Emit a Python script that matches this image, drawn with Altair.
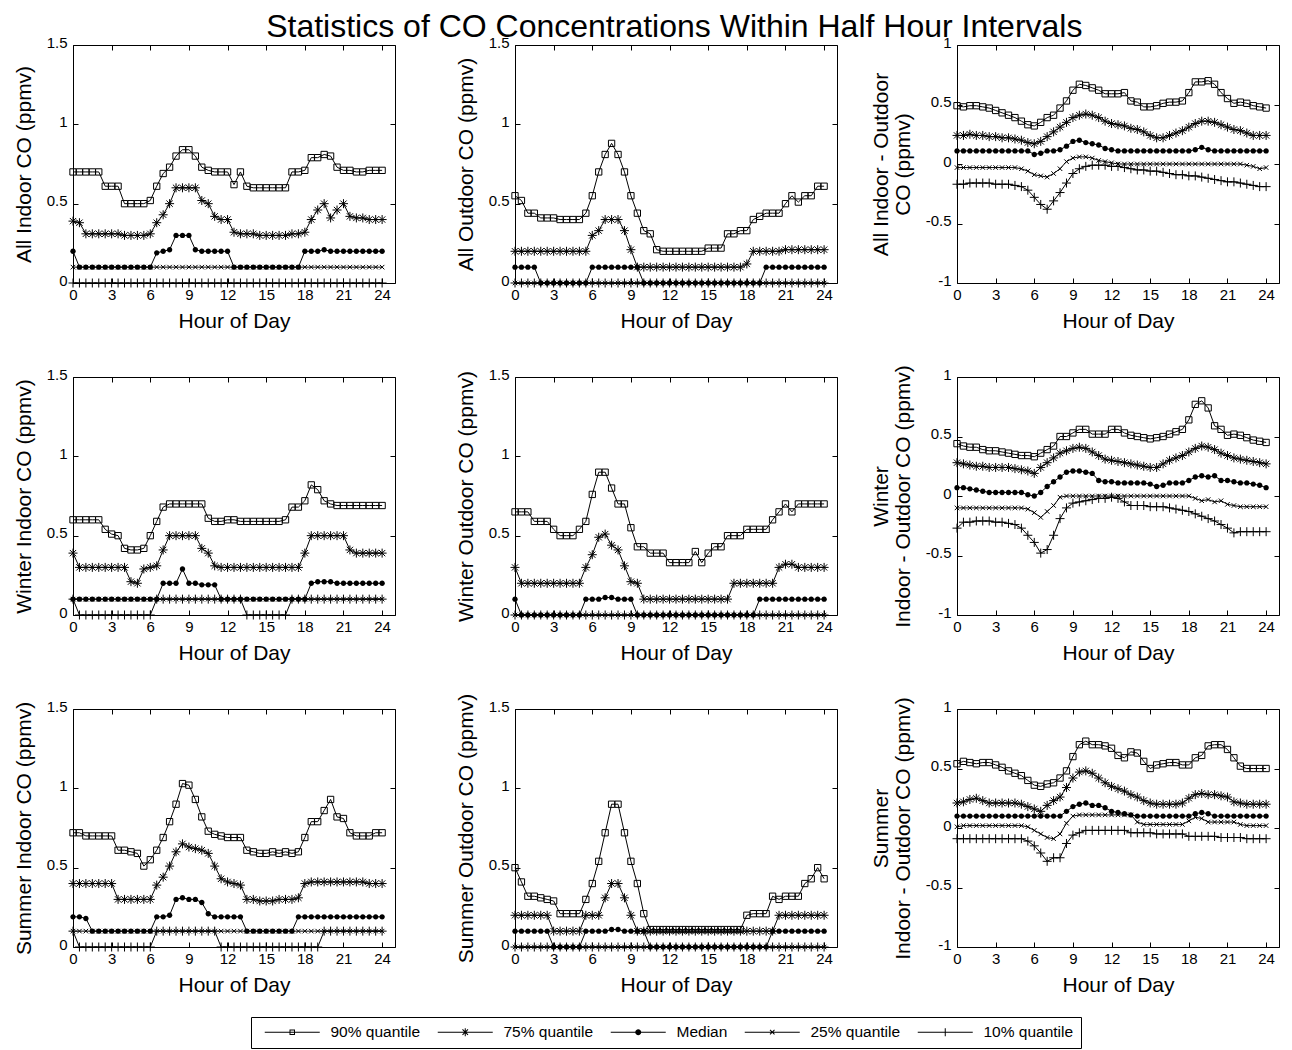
import altair as alt
import pandas as pd

FONT = "Liberation Sans"

HOURS = [0.0, 0.5, 1.0, 1.5, 2.0, 2.5, 3.0, 3.5, 4.0, 4.5,
         5.0, 5.5, 6.0, 6.5, 7.0, 7.5, 8.0, 8.5, 9.0, 9.5,
         10.0, 10.5, 11.0, 11.5, 12.0, 12.5, 13.0, 13.5, 14.0, 14.5,
         15.0, 15.5, 16.0, 16.5, 17.0, 17.5, 18.0, 18.5, 19.0, 19.5,
         20.0, 20.5, 21.0, 21.5, 22.0, 22.5, 23.0, 23.5, 24.0]
SERIES = ["90% quantile", "75% quantile", "Median", "25% quantile", "10% quantile"]
X_TICKS = [0, 3, 6, 9, 12, 15, 18, 21, 24]
CONC_TICKS = [0, 0.5, 1, 1.5]
DIFF_TICKS = [-1, -0.5, 0, 0.5, 1]

# ---------------- All Indoor ----------------
ALL_IN_P90 = [0.70, 0.70, 0.70, 0.70, 0.70, 0.61, 0.61, 0.61, 0.50, 0.50,
              0.50, 0.50, 0.52, 0.61, 0.69, 0.73, 0.80, 0.84, 0.84, 0.80,
              0.73, 0.71, 0.70, 0.70, 0.70, 0.62, 0.70, 0.61, 0.60, 0.60,
              0.60, 0.60, 0.60, 0.60, 0.70, 0.70, 0.71, 0.79, 0.79, 0.81,
              0.80, 0.73, 0.71, 0.71, 0.70, 0.70, 0.71, 0.71, 0.71]
ALL_IN_P75 = [0.39, 0.38, 0.31, 0.31, 0.31, 0.31, 0.31, 0.31, 0.30, 0.30,
              0.30, 0.30, 0.31, 0.38, 0.43, 0.50, 0.60, 0.60, 0.60, 0.60,
              0.52, 0.50, 0.42, 0.40, 0.40, 0.32, 0.31, 0.31, 0.31, 0.30,
              0.30, 0.30, 0.30, 0.30, 0.31, 0.31, 0.32, 0.40, 0.46, 0.50,
              0.41, 0.46, 0.50, 0.42, 0.41, 0.41, 0.40, 0.40, 0.40]
ALL_IN_MED = [0.20, 0.10, 0.10, 0.10, 0.10, 0.10, 0.10, 0.10, 0.10, 0.10,
              0.10, 0.10, 0.10, 0.19, 0.20, 0.21, 0.30, 0.30, 0.30, 0.21,
              0.20, 0.20, 0.20, 0.20, 0.20, 0.10, 0.10, 0.10, 0.10, 0.10,
              0.10, 0.10, 0.10, 0.10, 0.10, 0.10, 0.20, 0.20, 0.20, 0.21,
              0.20, 0.20, 0.20, 0.20, 0.20, 0.20, 0.20, 0.20, 0.20]
ALL_IN_P25 = [0.10, 0.10, 0.10, 0.10, 0.10, 0.10, 0.10, 0.10, 0.10, 0.10,
              0.10, 0.10, 0.10, 0.10, 0.10, 0.10, 0.10, 0.10, 0.10, 0.10,
              0.10, 0.10, 0.10, 0.10, 0.10, 0.10, 0.10, 0.10, 0.10, 0.10,
              0.10, 0.10, 0.10, 0.10, 0.10, 0.10, 0.10, 0.10, 0.10, 0.10,
              0.10, 0.10, 0.10, 0.10, 0.10, 0.10, 0.10, 0.10, 0.10]
ALL_IN_P10 = [0.00, 0.00, 0.00, 0.00, 0.00, 0.00, 0.00, 0.00, 0.00, 0.00,
              0.00, 0.00, 0.00, 0.00, 0.00, 0.00, 0.00, 0.00, 0.00, 0.00,
              0.00, 0.00, 0.00, 0.00, 0.00, 0.00, 0.00, 0.00, 0.00, 0.00,
              0.00, 0.00, 0.00, 0.00, 0.00, 0.00, 0.00, 0.00, 0.00, 0.00,
              0.00, 0.00, 0.00, 0.00, 0.00, 0.00, 0.00, 0.00, 0.00]

# ---------------- All Outdoor ----------------
ALL_OUT_P90 = [0.55, 0.52, 0.44, 0.44, 0.41, 0.41, 0.41, 0.40, 0.40, 0.40,
               0.40, 0.44, 0.55, 0.70, 0.81, 0.88, 0.81, 0.70, 0.55, 0.44,
               0.33, 0.31, 0.21, 0.20, 0.20, 0.20, 0.20, 0.20, 0.20, 0.20,
               0.22, 0.22, 0.22, 0.31, 0.31, 0.33, 0.33, 0.40, 0.42, 0.44,
               0.44, 0.44, 0.50, 0.55, 0.51, 0.55, 0.55, 0.61, 0.61]
ALL_OUT_P75 = [0.20, 0.20, 0.20, 0.20, 0.20, 0.20, 0.20, 0.20, 0.20, 0.20,
               0.20, 0.20, 0.30, 0.33, 0.40, 0.40, 0.40, 0.33, 0.21, 0.10,
               0.10, 0.10, 0.10, 0.10, 0.10, 0.10, 0.10, 0.10, 0.10, 0.10,
               0.10, 0.10, 0.10, 0.10, 0.10, 0.10, 0.12, 0.20, 0.20, 0.20,
               0.20, 0.20, 0.21, 0.21, 0.21, 0.21, 0.21, 0.21, 0.21]
ALL_OUT_MED = [0.10, 0.10, 0.10, 0.10, 0.00, 0.00, 0.00, 0.00, 0.00, 0.00,
               0.00, 0.00, 0.10, 0.10, 0.10, 0.10, 0.10, 0.10, 0.10, 0.10,
               0.00, 0.00, 0.00, 0.00, 0.00, 0.00, 0.00, 0.00, 0.00, 0.00,
               0.00, 0.00, 0.00, 0.00, 0.00, 0.00, 0.00, 0.00, 0.00, 0.10,
               0.10, 0.10, 0.10, 0.10, 0.10, 0.10, 0.10, 0.10, 0.10]
ALL_OUT_P25 = [0.00, 0.00, 0.00, 0.00, 0.00, 0.00, 0.00, 0.00, 0.00, 0.00,
               0.00, 0.00, 0.00, 0.00, 0.00, 0.00, 0.00, 0.00, 0.00, 0.00,
               0.00, 0.00, 0.00, 0.00, 0.00, 0.00, 0.00, 0.00, 0.00, 0.00,
               0.00, 0.00, 0.00, 0.00, 0.00, 0.00, 0.00, 0.00, 0.00, 0.00,
               0.00, 0.00, 0.00, 0.00, 0.00, 0.00, 0.00, 0.00, 0.00]
ALL_OUT_P10 = [0.00, 0.00, 0.00, 0.00, 0.00, 0.00, 0.00, 0.00, 0.00, 0.00,
               0.00, 0.00, 0.00, 0.00, 0.00, 0.00, 0.00, 0.00, 0.00, 0.00,
               0.00, 0.00, 0.00, 0.00, 0.00, 0.00, 0.00, 0.00, 0.00, 0.00,
               0.00, 0.00, 0.00, 0.00, 0.00, 0.00, 0.00, 0.00, 0.00, 0.00,
               0.00, 0.00, 0.00, 0.00, 0.00, 0.00, 0.00, 0.00, 0.00]

# ---------------- All Indoor - Outdoor ----------------
ALL_DIF_P90 = [0.49, 0.48, 0.49, 0.49, 0.48, 0.47, 0.45, 0.43, 0.41, 0.39,
               0.36, 0.33, 0.32, 0.35, 0.39, 0.41, 0.47, 0.53, 0.62, 0.67,
               0.66, 0.64, 0.62, 0.59, 0.59, 0.59, 0.60, 0.53, 0.52, 0.48,
               0.48, 0.49, 0.51, 0.52, 0.52, 0.53, 0.60, 0.69, 0.69, 0.70,
               0.67, 0.60, 0.55, 0.51, 0.52, 0.51, 0.49, 0.48, 0.47]
ALL_DIF_P75 = [0.24, 0.24, 0.25, 0.24, 0.24, 0.23, 0.23, 0.22, 0.22, 0.21,
               0.20, 0.18, 0.17, 0.19, 0.23, 0.27, 0.31, 0.35, 0.39, 0.41,
               0.42, 0.41, 0.39, 0.36, 0.34, 0.33, 0.32, 0.30, 0.29, 0.27,
               0.24, 0.22, 0.22, 0.24, 0.26, 0.28, 0.31, 0.34, 0.36, 0.36,
               0.35, 0.33, 0.31, 0.29, 0.28, 0.26, 0.24, 0.24, 0.24]
ALL_DIF_MED = [0.11, 0.11, 0.11, 0.11, 0.11, 0.11, 0.11, 0.11, 0.11, 0.11,
               0.11, 0.11, 0.08, 0.09, 0.11, 0.11, 0.12, 0.15, 0.19, 0.20,
               0.18, 0.17, 0.16, 0.13, 0.12, 0.11, 0.11, 0.11, 0.11, 0.11,
               0.11, 0.11, 0.11, 0.11, 0.11, 0.11, 0.11, 0.12, 0.14, 0.12,
               0.11, 0.11, 0.11, 0.11, 0.11, 0.11, 0.11, 0.11, 0.11]
ALL_DIF_P25 = [-0.03, -0.03, -0.03, -0.03, -0.03, -0.03, -0.03, -0.03, -0.03, -0.03,
               -0.04, -0.06, -0.09, -0.10, -0.11, -0.08, -0.04, 0.02, 0.05, 0.06,
               0.06, 0.05, 0.03, 0.02, 0.01, 0.00, 0.00, 0.00, 0.00, 0.00,
               0.00, 0.00, 0.00, 0.00, 0.00, 0.00, 0.00, 0.00, 0.00, 0.00,
               0.00, 0.00, 0.00, 0.00, 0.00, -0.01, -0.02, -0.04, -0.03]
ALL_DIF_P10 = [-0.17, -0.17, -0.16, -0.16, -0.16, -0.16, -0.17, -0.17, -0.17, -0.18,
               -0.19, -0.22, -0.28, -0.34, -0.38, -0.31, -0.24, -0.16, -0.08, -0.04,
               -0.02, -0.01, -0.01, -0.01, -0.02, -0.02, -0.03, -0.04, -0.05, -0.05,
               -0.06, -0.06, -0.07, -0.08, -0.09, -0.09, -0.10, -0.10, -0.11, -0.12,
               -0.13, -0.14, -0.15, -0.15, -0.16, -0.17, -0.18, -0.19, -0.19]

# ---------------- Winter Indoor ----------------
WIN_IN_P90 = [0.60, 0.60, 0.60, 0.60, 0.60, 0.54, 0.51, 0.50, 0.42, 0.41,
              0.41, 0.42, 0.50, 0.59, 0.68, 0.70, 0.70, 0.70, 0.70, 0.70,
              0.70, 0.61, 0.59, 0.59, 0.60, 0.60, 0.59, 0.59, 0.59, 0.59,
              0.59, 0.59, 0.59, 0.60, 0.68, 0.68, 0.72, 0.82, 0.79, 0.72,
              0.70, 0.69, 0.69, 0.69, 0.69, 0.69, 0.69, 0.69, 0.69]
WIN_IN_P75 = [0.39, 0.30, 0.30, 0.30, 0.30, 0.30, 0.30, 0.30, 0.30, 0.21,
              0.20, 0.29, 0.30, 0.31, 0.41, 0.50, 0.50, 0.50, 0.50, 0.50,
              0.42, 0.39, 0.31, 0.30, 0.30, 0.30, 0.30, 0.30, 0.30, 0.30,
              0.30, 0.30, 0.30, 0.30, 0.30, 0.30, 0.39, 0.50, 0.50, 0.50,
              0.50, 0.50, 0.50, 0.41, 0.39, 0.39, 0.39, 0.39, 0.39]
WIN_IN_MED = [0.10, 0.10, 0.10, 0.10, 0.10, 0.10, 0.10, 0.10, 0.10, 0.10,
              0.10, 0.10, 0.10, 0.10, 0.20, 0.20, 0.20, 0.29, 0.20, 0.20,
              0.19, 0.19, 0.19, 0.10, 0.10, 0.10, 0.10, 0.10, 0.10, 0.10,
              0.10, 0.10, 0.10, 0.10, 0.10, 0.10, 0.10, 0.20, 0.21, 0.21,
              0.21, 0.20, 0.20, 0.20, 0.20, 0.20, 0.20, 0.20, 0.20]
WIN_IN_P25 = [0.10, 0.10, 0.10, 0.10, 0.10, 0.10, 0.10, 0.10, 0.10, 0.10,
              0.10, 0.10, 0.10, 0.10, 0.10, 0.10, 0.10, 0.10, 0.10, 0.10,
              0.10, 0.10, 0.10, 0.10, 0.10, 0.10, 0.10, 0.10, 0.10, 0.10,
              0.10, 0.10, 0.10, 0.10, 0.10, 0.10, 0.10, 0.10, 0.10, 0.10,
              0.10, 0.10, 0.10, 0.10, 0.10, 0.10, 0.10, 0.10, 0.10]
WIN_IN_P10 = [0.10, 0.00, 0.00, 0.00, 0.00, 0.00, 0.00, 0.00, 0.00, 0.00,
              0.00, 0.00, 0.00, 0.10, 0.10, 0.10, 0.10, 0.10, 0.10, 0.10,
              0.10, 0.10, 0.10, 0.10, 0.10, 0.10, 0.10, 0.00, 0.00, 0.00,
              0.00, 0.00, 0.00, 0.00, 0.10, 0.10, 0.10, 0.10, 0.10, 0.10,
              0.10, 0.10, 0.10, 0.10, 0.10, 0.10, 0.10, 0.10, 0.10]

# ---------------- Winter Outdoor ----------------
WIN_OUT_P90 = [0.65, 0.65, 0.65, 0.59, 0.59, 0.59, 0.54, 0.50, 0.50, 0.50,
               0.54, 0.59, 0.76, 0.90, 0.90, 0.80, 0.70, 0.70, 0.55, 0.43,
               0.43, 0.39, 0.39, 0.39, 0.33, 0.33, 0.33, 0.33, 0.40, 0.33,
               0.39, 0.43, 0.43, 0.50, 0.50, 0.50, 0.54, 0.54, 0.54, 0.54,
               0.60, 0.65, 0.70, 0.65, 0.70, 0.70, 0.70, 0.70, 0.70]
WIN_OUT_P75 = [0.30, 0.20, 0.20, 0.20, 0.20, 0.20, 0.20, 0.20, 0.20, 0.20,
               0.20, 0.30, 0.38, 0.49, 0.51, 0.44, 0.41, 0.31, 0.21, 0.20,
               0.10, 0.10, 0.10, 0.10, 0.10, 0.10, 0.10, 0.10, 0.10, 0.10,
               0.10, 0.10, 0.10, 0.10, 0.20, 0.20, 0.20, 0.20, 0.20, 0.20,
               0.20, 0.30, 0.32, 0.32, 0.30, 0.30, 0.30, 0.30, 0.30]
WIN_OUT_MED = [0.10, 0.00, 0.00, 0.00, 0.00, 0.00, 0.00, 0.00, 0.00, 0.00,
               0.00, 0.10, 0.10, 0.10, 0.11, 0.11, 0.10, 0.10, 0.10, 0.00,
               0.00, 0.00, 0.00, 0.00, 0.00, 0.00, 0.00, 0.00, 0.00, 0.00,
               0.00, 0.00, 0.00, 0.00, 0.00, 0.00, 0.00, 0.00, 0.10, 0.10,
               0.10, 0.10, 0.10, 0.10, 0.10, 0.10, 0.10, 0.10, 0.10]
WIN_OUT_P25 = [0.00, 0.00, 0.00, 0.00, 0.00, 0.00, 0.00, 0.00, 0.00, 0.00,
               0.00, 0.00, 0.00, 0.00, 0.00, 0.00, 0.00, 0.00, 0.00, 0.00,
               0.00, 0.00, 0.00, 0.00, 0.00, 0.00, 0.00, 0.00, 0.00, 0.00,
               0.00, 0.00, 0.00, 0.00, 0.00, 0.00, 0.00, 0.00, 0.00, 0.00,
               0.00, 0.00, 0.00, 0.00, 0.00, 0.00, 0.00, 0.00, 0.00]
WIN_OUT_P10 = [0.00, 0.00, 0.00, 0.00, 0.00, 0.00, 0.00, 0.00, 0.00, 0.00,
               0.00, 0.00, 0.00, 0.00, 0.00, 0.00, 0.00, 0.00, 0.00, 0.00,
               0.00, 0.00, 0.00, 0.00, 0.00, 0.00, 0.00, 0.00, 0.00, 0.00,
               0.00, 0.00, 0.00, 0.00, 0.00, 0.00, 0.00, 0.00, 0.00, 0.00,
               0.00, 0.00, 0.00, 0.00, 0.00, 0.00, 0.00, 0.00, 0.00]

# ---------------- Winter Indoor - Outdoor ----------------
WIN_DIF_P90 = [0.44, 0.42, 0.41, 0.41, 0.39, 0.38, 0.38, 0.37, 0.36, 0.35,
               0.34, 0.34, 0.33, 0.36, 0.39, 0.42, 0.50, 0.50, 0.53, 0.56,
               0.56, 0.52, 0.52, 0.52, 0.56, 0.56, 0.53, 0.51, 0.50, 0.49,
               0.48, 0.49, 0.50, 0.52, 0.54, 0.56, 0.64, 0.77, 0.80, 0.74,
               0.59, 0.56, 0.51, 0.52, 0.51, 0.49, 0.47, 0.46, 0.45]
WIN_DIF_P75 = [0.28, 0.27, 0.26, 0.25, 0.25, 0.24, 0.24, 0.24, 0.24, 0.23,
               0.22, 0.21, 0.19, 0.24, 0.28, 0.32, 0.36, 0.38, 0.40, 0.41,
               0.40, 0.37, 0.34, 0.31, 0.30, 0.29, 0.28, 0.27, 0.26, 0.25,
               0.24, 0.24, 0.27, 0.30, 0.32, 0.34, 0.37, 0.40, 0.42, 0.41,
               0.39, 0.36, 0.34, 0.32, 0.31, 0.30, 0.29, 0.28, 0.27]
WIN_DIF_MED = [0.07, 0.07, 0.06, 0.05, 0.04, 0.03, 0.03, 0.03, 0.03, 0.03,
               0.03, 0.01, 0.00, 0.03, 0.08, 0.12, 0.16, 0.20, 0.21, 0.21,
               0.20, 0.19, 0.13, 0.12, 0.12, 0.11, 0.11, 0.11, 0.11, 0.11,
               0.10, 0.08, 0.09, 0.11, 0.11, 0.11, 0.13, 0.16, 0.17, 0.16,
               0.17, 0.13, 0.13, 0.12, 0.11, 0.11, 0.10, 0.09, 0.07]
WIN_DIF_P25 = [-0.10, -0.10, -0.10, -0.10, -0.10, -0.10, -0.10, -0.10, -0.10, -0.10,
               -0.10, -0.11, -0.14, -0.18, -0.13, -0.08, -0.01, 0.00, 0.00, 0.00,
               0.00, 0.00, 0.00, 0.00, 0.00, 0.00, 0.00, 0.00, 0.00, 0.00,
               0.00, 0.00, 0.00, 0.00, 0.00, 0.00, 0.00, -0.02, -0.04, -0.03,
               -0.05, -0.04, -0.07, -0.08, -0.09, -0.09, -0.09, -0.09, -0.09]
WIN_DIF_P10 = [-0.27, -0.22, -0.22, -0.21, -0.21, -0.21, -0.22, -0.22, -0.23, -0.24,
               -0.27, -0.33, -0.39, -0.48, -0.45, -0.33, -0.19, -0.10, -0.06, -0.05,
               -0.04, -0.03, -0.02, -0.02, -0.01, -0.02, -0.05, -0.08, -0.08, -0.08,
               -0.09, -0.09, -0.09, -0.10, -0.11, -0.12, -0.13, -0.15, -0.17, -0.19,
               -0.21, -0.24, -0.27, -0.31, -0.30, -0.30, -0.30, -0.30, -0.30]

# ---------------- Summer Indoor ----------------
SUM_IN_P90 = [0.72, 0.72, 0.70, 0.70, 0.70, 0.70, 0.70, 0.61, 0.61, 0.60,
              0.59, 0.51, 0.55, 0.61, 0.69, 0.79, 0.90, 1.03, 1.02, 0.93,
              0.82, 0.73, 0.71, 0.70, 0.69, 0.69, 0.69, 0.61, 0.60, 0.59,
              0.59, 0.60, 0.59, 0.60, 0.59, 0.60, 0.69, 0.79, 0.79, 0.86,
              0.93, 0.82, 0.81, 0.72, 0.70, 0.70, 0.70, 0.72, 0.72]
SUM_IN_P75 = [0.40, 0.40, 0.40, 0.40, 0.40, 0.40, 0.40, 0.30, 0.30, 0.30,
              0.30, 0.30, 0.30, 0.39, 0.44, 0.51, 0.60, 0.65, 0.63, 0.62,
              0.61, 0.59, 0.51, 0.43, 0.41, 0.40, 0.39, 0.30, 0.30, 0.29,
              0.29, 0.29, 0.30, 0.30, 0.30, 0.31, 0.40, 0.41, 0.41, 0.41,
              0.41, 0.41, 0.41, 0.41, 0.41, 0.41, 0.40, 0.40, 0.40]
SUM_IN_MED = [0.19, 0.19, 0.18, 0.10, 0.10, 0.10, 0.10, 0.10, 0.10, 0.10,
              0.10, 0.10, 0.10, 0.19, 0.19, 0.20, 0.30, 0.31, 0.30, 0.30,
              0.28, 0.21, 0.19, 0.19, 0.19, 0.19, 0.19, 0.10, 0.10, 0.10,
              0.10, 0.10, 0.10, 0.10, 0.10, 0.19, 0.19, 0.19, 0.19, 0.19,
              0.19, 0.19, 0.19, 0.19, 0.19, 0.19, 0.19, 0.19, 0.19]
SUM_IN_P25 = [0.10, 0.10, 0.10, 0.10, 0.10, 0.10, 0.10, 0.10, 0.10, 0.10,
              0.10, 0.10, 0.10, 0.10, 0.10, 0.10, 0.10, 0.10, 0.10, 0.10,
              0.10, 0.10, 0.10, 0.10, 0.10, 0.10, 0.10, 0.10, 0.10, 0.10,
              0.10, 0.10, 0.10, 0.10, 0.10, 0.10, 0.10, 0.10, 0.10, 0.10,
              0.10, 0.10, 0.10, 0.10, 0.10, 0.10, 0.10, 0.10, 0.10]
SUM_IN_P10 = [0.10, 0.00, 0.00, 0.00, 0.00, 0.00, 0.00, 0.00, 0.00, 0.00,
              0.00, 0.00, 0.00, 0.10, 0.10, 0.10, 0.10, 0.10, 0.10, 0.10,
              0.10, 0.10, 0.10, 0.00, 0.00, 0.00, 0.00, 0.00, 0.00, 0.00,
              0.00, 0.00, 0.00, 0.00, 0.00, 0.00, 0.00, 0.00, 0.00, 0.10,
              0.10, 0.10, 0.10, 0.10, 0.10, 0.10, 0.10, 0.10, 0.10]

# ---------------- Summer Outdoor ----------------
SUM_OUT_P90 = [0.50, 0.41, 0.32, 0.32, 0.31, 0.30, 0.29, 0.21, 0.21, 0.21,
               0.21, 0.30, 0.40, 0.54, 0.72, 0.90, 0.90, 0.72, 0.54, 0.40,
               0.21, 0.11, 0.11, 0.11, 0.11, 0.11, 0.11, 0.11, 0.11, 0.11,
               0.11, 0.11, 0.11, 0.11, 0.11, 0.11, 0.20, 0.21, 0.21, 0.21,
               0.32, 0.30, 0.32, 0.32, 0.32, 0.40, 0.43, 0.50, 0.43]
SUM_OUT_P75 = [0.20, 0.20, 0.20, 0.20, 0.20, 0.20, 0.10, 0.10, 0.10, 0.10,
               0.10, 0.20, 0.20, 0.20, 0.31, 0.40, 0.40, 0.31, 0.20, 0.10,
               0.10, 0.10, 0.10, 0.10, 0.10, 0.10, 0.10, 0.10, 0.10, 0.10,
               0.10, 0.10, 0.10, 0.10, 0.10, 0.10, 0.10, 0.10, 0.10, 0.10,
               0.10, 0.20, 0.20, 0.20, 0.20, 0.20, 0.20, 0.20, 0.20]
SUM_OUT_MED = [0.10, 0.10, 0.10, 0.10, 0.10, 0.10, 0.00, 0.00, 0.00, 0.00,
               0.00, 0.10, 0.10, 0.10, 0.10, 0.11, 0.11, 0.10, 0.10, 0.10,
               0.10, 0.00, 0.00, 0.00, 0.00, 0.00, 0.00, 0.00, 0.00, 0.00,
               0.00, 0.00, 0.00, 0.00, 0.00, 0.00, 0.00, 0.00, 0.00, 0.00,
               0.10, 0.10, 0.10, 0.10, 0.10, 0.10, 0.10, 0.10, 0.10]
SUM_OUT_P25 = [0.00, 0.00, 0.00, 0.00, 0.00, 0.00, 0.00, 0.00, 0.00, 0.00,
               0.00, 0.00, 0.00, 0.00, 0.00, 0.00, 0.00, 0.00, 0.00, 0.00,
               0.00, 0.00, 0.00, 0.00, 0.00, 0.00, 0.00, 0.00, 0.00, 0.00,
               0.00, 0.00, 0.00, 0.00, 0.00, 0.00, 0.00, 0.00, 0.00, 0.00,
               0.00, 0.00, 0.00, 0.00, 0.00, 0.00, 0.00, 0.00, 0.00]
SUM_OUT_P10 = [0.00, 0.00, 0.00, 0.00, 0.00, 0.00, 0.00, 0.00, 0.00, 0.00,
               0.00, 0.00, 0.00, 0.00, 0.00, 0.00, 0.00, 0.00, 0.00, 0.00,
               0.00, 0.00, 0.00, 0.00, 0.00, 0.00, 0.00, 0.00, 0.00, 0.00,
               0.00, 0.00, 0.00, 0.00, 0.00, 0.00, 0.00, 0.00, 0.00, 0.00,
               0.00, 0.00, 0.00, 0.00, 0.00, 0.00, 0.00, 0.00, 0.00]

# ---------------- Summer Indoor - Outdoor ----------------
SUM_DIF_P90 = [0.54, 0.56, 0.55, 0.54, 0.55, 0.55, 0.53, 0.51, 0.48, 0.46,
               0.44, 0.40, 0.36, 0.35, 0.37, 0.38, 0.42, 0.48, 0.60, 0.70,
               0.73, 0.70, 0.70, 0.69, 0.67, 0.61, 0.59, 0.64, 0.63, 0.56,
               0.50, 0.53, 0.54, 0.55, 0.55, 0.53, 0.53, 0.59, 0.61, 0.69,
               0.70, 0.70, 0.66, 0.59, 0.52, 0.50, 0.50, 0.50, 0.50]
SUM_DIF_P75 = [0.21, 0.22, 0.24, 0.25, 0.23, 0.21, 0.21, 0.21, 0.21, 0.21,
               0.20, 0.18, 0.16, 0.14, 0.19, 0.23, 0.26, 0.34, 0.42, 0.47,
               0.48, 0.46, 0.42, 0.38, 0.35, 0.33, 0.31, 0.28, 0.26, 0.23,
               0.21, 0.20, 0.20, 0.20, 0.20, 0.21, 0.25, 0.28, 0.29, 0.28,
               0.28, 0.27, 0.26, 0.22, 0.21, 0.20, 0.20, 0.20, 0.20]
SUM_DIF_MED = [0.10, 0.10, 0.10, 0.10, 0.10, 0.10, 0.10, 0.10, 0.10, 0.10,
               0.10, 0.10, 0.10, 0.10, 0.10, 0.10, 0.10, 0.14, 0.18, 0.20,
               0.21, 0.19, 0.19, 0.17, 0.14, 0.13, 0.12, 0.11, 0.10, 0.10,
               0.10, 0.10, 0.10, 0.10, 0.10, 0.10, 0.10, 0.12, 0.13, 0.12,
               0.10, 0.10, 0.10, 0.10, 0.10, 0.10, 0.10, 0.10, 0.10]
SUM_DIF_P25 = [0.01, 0.02, 0.02, 0.02, 0.02, 0.02, 0.02, 0.02, 0.02, 0.02,
               0.02, 0.01, -0.02, -0.05, -0.08, -0.09, -0.05, 0.04, 0.10, 0.11,
               0.11, 0.11, 0.11, 0.11, 0.11, 0.11, 0.11, 0.11, 0.05, 0.03,
               0.03, 0.03, 0.03, 0.03, 0.03, 0.03, 0.06, 0.09, 0.08, 0.05,
               0.05, 0.05, 0.05, 0.05, 0.03, 0.02, 0.02, 0.02, 0.02]
SUM_DIF_P10 = [-0.09, -0.09, -0.09, -0.09, -0.09, -0.09, -0.09, -0.09, -0.09, -0.09,
               -0.09, -0.11, -0.15, -0.21, -0.28, -0.25, -0.25, -0.13, -0.06, -0.04,
               -0.02, -0.02, -0.02, -0.02, -0.02, -0.02, -0.02, -0.04, -0.04, -0.04,
               -0.04, -0.05, -0.05, -0.05, -0.05, -0.05, -0.07, -0.07, -0.07, -0.07,
               -0.07, -0.08, -0.08, -0.08, -0.08, -0.09, -0.09, -0.09, -0.09]

PANELS = [
    ("All Indoor CO (ppmv)", "conc", [ALL_IN_P90, ALL_IN_P75, ALL_IN_MED, ALL_IN_P25, ALL_IN_P10]),
    ("All Outdoor CO (ppmv)", "conc", [ALL_OUT_P90, ALL_OUT_P75, ALL_OUT_MED, ALL_OUT_P25, ALL_OUT_P10]),
    (["All Indoor - Outdoor", "CO (ppmv)"], "diff", [ALL_DIF_P90, ALL_DIF_P75, ALL_DIF_MED, ALL_DIF_P25, ALL_DIF_P10]),
    ("Winter Indoor CO (ppmv)", "conc", [WIN_IN_P90, WIN_IN_P75, WIN_IN_MED, WIN_IN_P25, WIN_IN_P10]),
    ("Winter Outdoor CO (ppmv)", "conc", [WIN_OUT_P90, WIN_OUT_P75, WIN_OUT_MED, WIN_OUT_P25, WIN_OUT_P10]),
    (["Winter", "Indoor - Outdoor CO (ppmv)"], "diff", [WIN_DIF_P90, WIN_DIF_P75, WIN_DIF_MED, WIN_DIF_P25, WIN_DIF_P10]),
    ("Summer Indoor CO (ppmv)", "conc", [SUM_IN_P90, SUM_IN_P75, SUM_IN_MED, SUM_IN_P25, SUM_IN_P10]),
    ("Summer Outdoor CO (ppmv)", "conc", [SUM_OUT_P90, SUM_OUT_P75, SUM_OUT_MED, SUM_OUT_P25, SUM_OUT_P10]),
    (["Summer", "Indoor - Outdoor CO (ppmv)"], "diff", [SUM_DIF_P90, SUM_DIF_P75, SUM_DIF_MED, SUM_DIF_P25, SUM_DIF_P10]),
]

# marker glyphs for the plots (unit square -1..1)
MARK_PATHS = [
    "M-0.7,-0.7H0.7V0.7H-0.7Z",
    "M-1,0H1M0,-1V1M-0.7,-0.7L0.7,0.7M-0.7,0.7L0.7,-0.7",
    "M0.6,0A0.6,0.6,0,1,1,-0.6,0A0.6,0.6,0,1,1,0.6,0Z",
    "M-0.5,-0.5L0.5,0.5M-0.5,0.5L0.5,-0.5",
    "M-1,0H1M0,-1V1",
]
MARK_FILLED = [False, False, True, False, False]

# legend glyphs (filled outlines): line segment with the marker in its middle, 1 unit = 5 px
LEG_LINE = "M-5.5,-0.1H5.5V0.1H-5.5Z"
LEG_VBAR = "M-0.1,-0.8H0.1V0.8H-0.1Z"
LEG_PATHS = [
    LEG_LINE + "M-0.55,-0.55H0.55V0.55H-0.55ZM-0.35,-0.35V0.35H0.35V-0.35Z",
    LEG_LINE + LEG_VBAR
    + "M-0.48,-0.62L0.62,0.48L0.48,0.62L-0.62,-0.48Z"
    + "M-0.62,0.48L0.48,-0.62L0.62,-0.48L-0.48,0.62Z",
    LEG_LINE + "M0.6,0A0.6,0.6,0,1,1,-0.6,0A0.6,0.6,0,1,1,0.6,0Z",
    LEG_LINE
    + "M-0.38,-0.52L0.52,0.38L0.38,0.52L-0.52,-0.38Z"
    + "M-0.52,0.38L0.38,-0.52L0.52,-0.38L-0.38,0.52Z",
    LEG_LINE + LEG_VBAR,
]

W, H = 322, 238

LEGEND = alt.Legend(
    title=None,
    orient="none",
    legendX=178,
    legendY=972,
    direction="horizontal",
    columns=5,
    symbolSize=100,
    symbolOffset=26.5,
    labelOffset=30.5,
    columnPadding=10,
    padding=7,
    labelFont=FONT,
    labelFontSize=15.5,
    labelColor="black",
    strokeColor="black",
    fillColor="white",
    symbolOpacity=1,
)


def make_panel(ytitle, kind, series_values):
    rows = []
    for name, vals in zip(SERIES, series_values):
        for h, v in zip(HOURS, vals):
            rows.append({"hour": h, "value": v, "series": name})
    df = pd.DataFrame(rows)

    ydom = [0, 1.5] if kind == "conc" else [-1, 1]
    yticks = CONC_TICKS if kind == "conc" else DIFF_TICKS
    xs = alt.Scale(domain=[0, 25], nice=False, zero=False)
    ys = alt.Scale(domain=ydom, nice=False, zero=False)

    tick_axis = dict(labels=False, title=None, ticks=True, tickSize=5, tickColor="black",
                     tickWidth=1, domain=False, grid=False)

    base = alt.Chart(df)
    lines = base.mark_line(color="black", strokeWidth=1).encode(
        x=alt.X("hour:Q", scale=xs, axis=alt.Axis(
            orient="bottom", values=X_TICKS, title="Hour of Day", ticks=False, domain=False,
            grid=False, labelPadding=4, titlePadding=8, labelFlush=False, labelOverlap=False,
            labelExpr="'' + datum.value")),
        y=alt.Y("value:Q", scale=ys, axis=alt.Axis(
            orient="left", values=yticks, title=ytitle, ticks=False, domain=False, grid=False,
            labelPadding=6, labelOffset=-3, titlePadding=12, titleLineHeight=22,
            labelFlush=False, labelOverlap=False, labelExpr="'' + datum.value")),
        detail="series:N",
    )
    layers = [lines]
    for name, path, filled in zip(SERIES, MARK_PATHS, MARK_FILLED):
        layers.append(
            base.transform_filter(alt.datum.series == name)
            .mark_point(shape=path, size=81, strokeWidth=1, color="black", filled=filled, opacity=1)
            .encode(
                x=alt.X("hour:Q", scale=xs, axis=None),
                y=alt.Y("value:Q", scale=ys, axis=None),
            )
        )
    # inward ticks on all four sides (invisible marks) + the legend
    layers.append(
        base.mark_point(opacity=0, size=1).encode(
            x=alt.X("hour:Q", scale=xs, axis=alt.Axis(orient="bottom", offset=-H, values=X_TICKS, **tick_axis)),
            y=alt.Y("value:Q", scale=ys, axis=alt.Axis(orient="right", offset=-W, values=yticks, **tick_axis)),
        )
    )
    layers.append(
        base.mark_point(opacity=0, size=1, filled=True, color="black").encode(
            x=alt.X("hour:Q", scale=xs, axis=alt.Axis(orient="top", offset=-H, values=X_TICKS, **tick_axis)),
            y=alt.Y("value:Q", scale=ys, axis=alt.Axis(orient="left", offset=-W, values=yticks, **tick_axis)),
            shape=alt.Shape("series:N", scale=alt.Scale(domain=SERIES, range=LEG_PATHS), legend=LEGEND),
        )
    )
    return (
        alt.layer(*layers)
        .resolve_axis(x="independent", y="independent")
        .properties(width=W, height=H)
    )


panels = [make_panel(t, k, v) for t, k, v in PANELS]

chart = alt.concat(
    *panels,
    columns=3,
    spacing={"row": 94, "column": 120},
    bounds="flush",
    title=alt.TitleParams(
        text="Statistics of CO Concentrations Within Half Hour Intervals",
        font=FONT, fontSize=32, fontWeight="normal", color="black",
        anchor="middle", offset=-9, dx=28,
    ),
).properties(
    padding={"left": 12, "top": 10, "right": 5, "bottom": 2},
    background="white",
).configure_view(
    stroke="black", strokeWidth=1,
).configure_axis(
    labelFont=FONT, labelFontSize=15, labelColor="black",
    titleFont=FONT, titleFontSize=21, titleFontWeight="normal", titleColor="black",
)

chart.save("out.html", embed_options={"renderer": "svg", "actions": False})
